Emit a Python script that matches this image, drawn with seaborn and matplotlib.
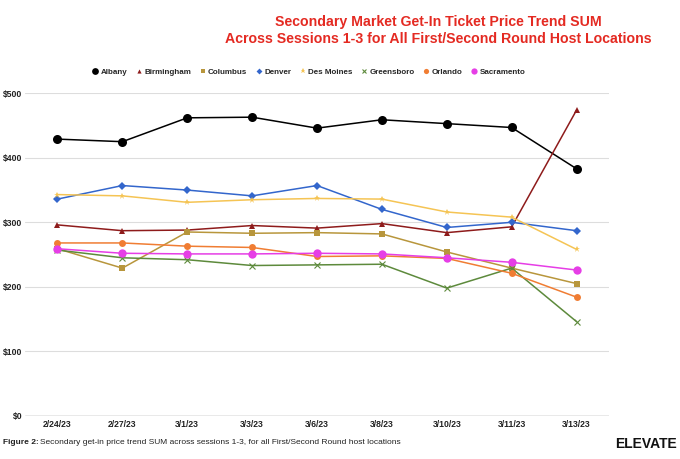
import matplotlib
matplotlib.use("Agg")
import matplotlib.pyplot as plt
from matplotlib.lines import Line2D
import seaborn as sns
import pandas as pd

dates = ["2/24/23", "2/27/23", "3/1/23", "3/3/23", "3/6/23", "3/8/23", "3/10/23", "3/11/23", "3/13/23"]
albany = [429, 425, 462, 463, 446, 459, 453, 447, 383]
birmingham = [296, 287, 288, 295, 291, 298, 284, 293, 474]
columbus = [259, 229, 285, 283, 284, 282, 254, 229, 205]
denver = [336, 357, 350, 341, 357, 320, 292, 300, 287]
des_moines = [343, 341, 331, 335, 337, 336, 316, 308, 258]
greensboro = [257, 245, 242, 233, 234, 235, 198, 229, 146]
orlando = [268, 268, 263, 261, 247, 248, 244, 221, 184]
sacramento = [259, 252, 251, 251, 252, 251, 245, 238, 226]

series_names = ["Albany", "Birmingham", "Columbus", "Denver", "Des Moines", "Greensboro", "Orlando", "Sacramento"]
series_values = [albany, birmingham, columbus, denver, des_moines, greensboro, orlando, sacramento]
colors = ["#000000", "#8e1b1b", "#b8963c", "#3366cc", "#f5c454", "#5d8a3c", "#f07d33", "#e63ee6"]
markers = ["o", "^", "s", "D", "*", "x", "o", "o"]
msizes = [6.5, 4, 4, 4, 5, 4, 5, 6]

sns.set_theme(style="white")
plt.rcParams['font.family'] = ['Liberation Sans', 'DejaVu Sans']

fig = plt.figure(figsize=(6.8, 4.59), dpi=100)
ax = fig.add_axes([0.0368, 0.0941, 0.8588, 0.7026])

for name, vals, c, m, ms in zip(series_names, series_values, colors, markers, msizes):
    df = pd.DataFrame({"date": dates, "value": vals})
    sns.lineplot(data=df, x="date", y="value", ax=ax, color=c, marker=m,
                 markersize=ms, markeredgecolor=c, markeredgewidth=0.8 if m == "x" else 0,
                 linewidth=1.1, sort=False, clip_on=False, zorder=3)

ax.set_xlim(-0.5, 8.5)
ax.set_ylim(0, 500)
ax.set_yticks([0, 100, 200, 300, 400, 500])
ax.set_yticklabels(["$0", "$100", "$200", "$300", "$400", "$500"])
ax.grid(axis="y", color="#dddddd", linewidth=0.8)
ax.grid(axis="x", visible=False)
for s in ax.spines.values():
    s.set_visible(False)
ax.axhline(0, color="#999999", linewidth=1.0, zorder=2)
ax.tick_params(axis="both", length=0, labelsize=6.2, colors="#222222")
ax.tick_params(axis="y", pad=2)
ax.tick_params(axis="x", pad=3)
for lbl in ax.get_xticklabels() + ax.get_yticklabels():
    lbl.set_fontweight("bold")
ax.set_xlabel("")
ax.set_ylabel("")

handles = [Line2D([], [], linestyle="none", marker=m, color=c, markersize=ms * 0.75,
                  markeredgewidth=0.8 if m == "x" else 0, markeredgecolor=c)
           for c, m, ms in zip(colors, markers, msizes)]
fig.legend(handles, series_names, loc="center", bbox_to_anchor=(0.453, 0.843), ncol=8,
           frameon=False, prop={"size": 5.8, "weight": "bold"}, handletextpad=0.1,
           columnspacing=0.9, handlelength=1.1)

fig.text(0.644, 0.952, "Secondary Market Get-In Ticket Price Trend SUM", ha="center", va="center",
         color="#e42a22", fontsize=10.2, fontweight="bold")
fig.text(0.644, 0.915, "Across Sessions 1-3 for All First/Second Round Host Locations", ha="center", va="center",
         color="#e42a22", fontsize=10.2, fontweight="bold")

t1 = fig.text(0.004, 0.035, "Figure 2:", ha="left", va="center", fontsize=6.0, fontweight="bold", color="#222222")
fig.canvas.draw()
bb = t1.get_window_extent()
x2 = (bb.x1 + 2) / fig.bbox.width
fig.text(x2, 0.035, "Secondary get-in price trend SUM across sessions 1-3, for all First/Second Round host locations",
         ha="left", va="center", fontsize=6.0, color="#222222")
fig.text(0.995, 0.033, "ELEVATE", ha="right", va="center", fontsize=10, fontweight="bold", color="#111111")

fig.savefig("out.png", dpi=100, facecolor="white")
